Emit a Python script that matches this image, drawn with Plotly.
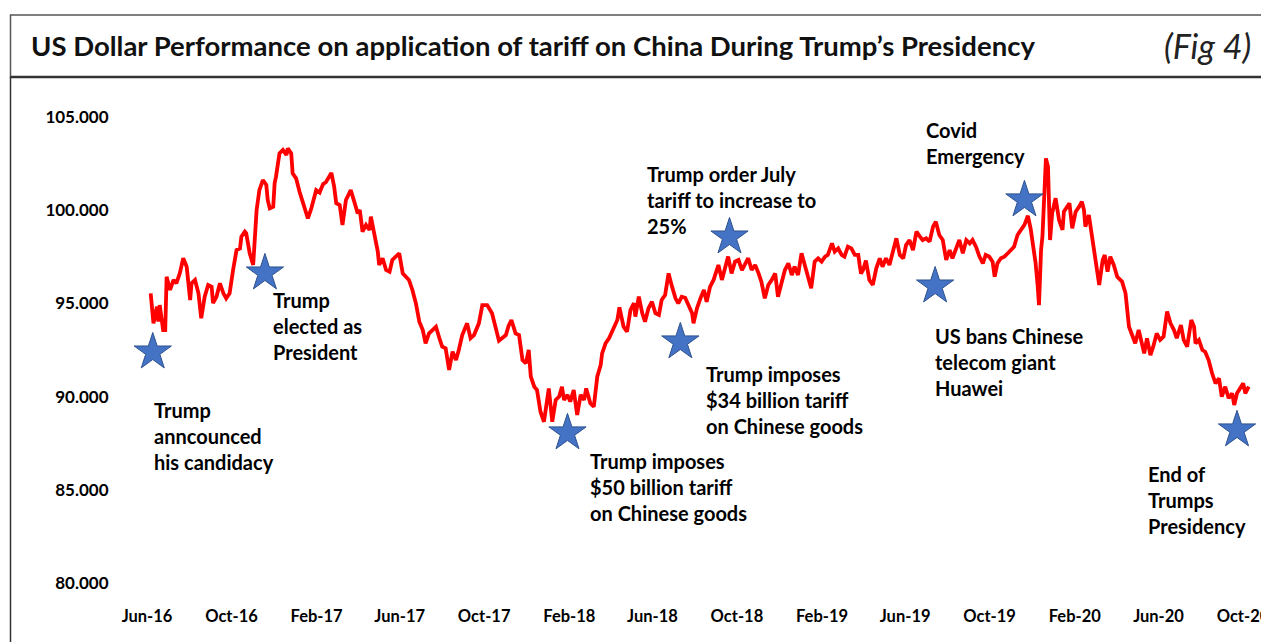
import pandas as pd
import plotly.graph_objects as go

# ---------------- data ----------------
start_date = "2016-06-01"
days = [1, 5, 10, 12, 14, 19, 22, 24, 29, 34, 38, 43, 48, 53, 58, 60, 65, 70, 74, 79,
        84, 89, 91, 96, 101, 106, 110, 115, 120, 125, 130, 132, 137, 139, 144, 149, 154, 158, 163, 168,
        170, 173, 178, 180, 182, 187, 192, 197, 199, 204, 206, 211, 216, 221, 228, 233, 240, 245, 250, 254,
        262, 266, 269, 274, 278, 283, 290, 295, 300, 303, 307, 312, 317, 319, 324, 329, 331, 336, 341, 346,
        350, 355, 360, 365, 374, 379, 384, 389, 394, 398, 403, 408, 413, 418, 422, 427, 432, 437, 442, 446,
        451, 458, 463, 468, 475, 480, 487, 494, 499, 504, 514, 518, 522, 528, 533, 538, 543, 547, 550, 555,
        559, 564, 569, 574, 576, 581, 586, 591, 595, 598, 603, 607, 612, 617, 622, 627, 630, 636, 641, 646,
        651, 653, 658, 663, 670, 675, 678, 684, 689, 694, 699, 701, 706, 711, 715, 720, 725, 730, 735, 739,
        744, 749, 754, 759, 763, 768, 773, 778, 783, 785, 790, 795, 800, 804, 809, 814, 817, 821, 826, 831,
        835, 840, 845, 850, 855, 860, 864, 869, 874, 879, 883, 888, 893, 898, 903, 907, 912, 917, 922, 927,
        931, 936, 941, 946, 951, 955, 960, 965, 970, 975, 979, 985, 989, 994, 999, 1003, 1008, 1013, 1018, 1023,
        1025, 1027, 1030, 1034, 1039, 1044, 1049, 1054, 1058, 1063, 1068, 1073, 1078, 1083, 1088, 1092, 1097, 1102, 1107, 1112,
        1116, 1121, 1126, 1131, 1135, 1140, 1145, 1150, 1155, 1159, 1164, 1169, 1174, 1179, 1184, 1188, 1193, 1198, 1203, 1207,
        1212, 1217, 1220, 1224, 1229, 1234, 1239, 1243, 1248, 1253, 1258, 1263, 1268, 1272, 1277, 1279, 1282, 1284, 1287, 1289,
        1292, 1294, 1297, 1300, 1303, 1308, 1313, 1318, 1320, 1328, 1332, 1337, 1342, 1346, 1349, 1351, 1356, 1361, 1366, 1368,
        1371, 1376, 1379, 1383, 1387, 1392, 1397, 1404, 1409, 1414, 1419, 1423, 1428, 1433, 1436, 1440, 1445, 1449, 1454, 1459,
        1464, 1469, 1474, 1479, 1483, 1489, 1493, 1498, 1504, 1508, 1510, 1515, 1520, 1524, 1529, 1534, 1539, 1544, 1548, 1553,
        1558, 1563, 1566, 1570, 1575, 1579, 1582, 1587]

dxy = [95.54, 93.93, 94.82, 94.02, 94.91, 93.57, 93.57, 96.43, 95.72, 96.26, 96.08, 96.61, 97.42, 96.97, 95.18, 96.08, 96.26, 95.54, 94.20, 95.36,
       95.99, 95.90, 95.01, 95.36, 96.08, 95.54, 95.27, 95.54, 96.79, 97.86, 97.95, 98.58, 98.85, 98.76, 97.69, 97.06, 100.01, 101.08, 101.62, 101.35,
       100.55, 100.10, 100.19, 101.44, 101.80, 103.05, 103.23, 102.96, 103.32, 103.05, 101.98, 101.71, 100.99, 100.37, 99.56, 100.10, 101.08, 100.95, 101.40, 101.50,
       102.00, 101.26, 100.37, 100.28, 99.21, 100.55, 101.08, 100.46, 99.83, 100.01, 98.85, 99.21, 98.94, 99.65, 98.76, 97.78, 97.06, 97.42, 96.79, 96.70,
       97.33, 97.51, 97.69, 96.61, 96.26, 95.72, 95.01, 94.02, 93.57, 92.86, 93.39, 93.57, 93.75, 93.13, 92.68, 92.59, 91.43, 92.41, 91.96, 92.50,
       93.30, 93.93, 93.13, 93.30, 93.93, 94.91, 94.91, 94.47, 93.75, 93.00, 93.30, 93.80, 94.11, 93.39, 93.30, 91.96, 91.79, 92.50, 91.07, 90.53,
       90.35, 89.19, 88.65, 90.18, 90.44, 88.65, 89.82, 90.00, 90.53, 89.82, 90.09, 89.73, 90.35, 89.01, 90.09, 89.82, 90.44, 89.64, 89.46, 91.07,
       91.70, 92.32, 92.86, 93.13, 93.75, 94.11, 94.79, 93.75, 93.48, 94.65, 95.01, 94.29, 95.36, 94.47, 94.02, 94.74, 95.09, 94.47, 94.38, 95.18,
       95.45, 96.61, 95.90, 95.27, 95.00, 95.36, 95.30, 94.82, 94.47, 93.93, 94.74, 95.27, 95.72, 95.09, 95.90, 96.26, 96.61, 97.06, 96.26, 96.97,
       97.51, 96.61, 97.24, 97.33, 96.79, 97.15, 97.42, 96.79, 97.06, 96.61, 96.17, 95.27, 95.99, 96.26, 96.61, 95.36, 95.99, 96.79, 97.15, 96.52,
       96.97, 96.52, 97.69, 96.97, 96.43, 95.81, 97.24, 97.42, 97.24, 97.51, 97.60, 98.22, 97.78, 97.95, 97.60, 97.51, 98.04, 97.95, 97.60, 97.60,
       97.06, 96.60, 96.80, 97.30, 96.26, 95.99, 96.88, 97.42, 96.97, 97.42, 97.06, 97.86, 98.49, 97.60, 97.42, 98.13, 98.40, 97.86, 98.85, 98.58,
       98.40, 98.49, 98.31, 99.12, 99.38, 98.67, 98.40, 97.33, 97.86, 97.42, 97.86, 98.40, 97.69, 98.40, 98.22, 98.40, 98.04, 97.51, 97.15, 97.60,
       97.51, 97.24, 96.43, 97.15, 97.42, 97.51, 97.69, 97.86, 98.04, 98.67, 98.94, 99.21, 99.70, 99.00, 97.70, 97.20, 96.00, 94.91, 97.86, 98.60,
       101.08, 102.78, 102.34, 98.40, 99.83, 100.64, 99.47, 98.94, 99.92, 100.37, 99.03, 99.92, 100.19, 100.46, 100.01, 99.12, 99.74, 98.40, 97.33, 96.70,
       95.99, 97.33, 97.60, 96.70, 97.51, 97.06, 96.43, 96.17, 95.54, 93.75, 93.22, 92.86, 93.57, 92.68, 92.32, 93.13, 92.23, 92.68, 93.39, 93.04,
       93.22, 94.56, 93.93, 93.57, 93.13, 93.84, 93.04, 92.68, 94.11, 93.75, 92.86, 93.04, 92.50, 92.41, 91.96, 91.25, 90.71, 90.98, 90.00, 90.53,
       89.91, 90.18, 89.55, 90.18, 90.53, 90.71, 90.18, 90.53]

event_days = [4, 166, 603, 766, 837, 1134, 1263, 1570]
event_levels = [92.39, 96.63, 88.05, 92.93, 98.56, 95.93, 100.55, 88.21]
event_labels = [
    ["Trump", "anncounced", "his candidacy"],
    ["Trump", "elected as", "President"],
    ["Trump imposes", "$50 billion tariff", "on Chinese goods"],
    ["Trump imposes", "$34 billion tariff", "on Chinese goods"],
    ["Trump order July", "tariff to increase to", "25%"],
    ["US bans Chinese", "telecom giant", "Huawei"],
    ["Covid", "Emergency"],
    ["End of", "Trumps", "Presidency"],
]
# text block placement in page pixels (left x, centre y of first line)
label_pos = [(152, 410), (271, 300), (588, 461), (704, 374), (645, 174),
             (933, 336), (924, 130), (1146, 474)]

title = "US Dollar Performance on application of tariff on China During Trump’s Presidency"
fig_tag = "(Fig 4)"

y_ticks = [80, 85, 90, 95, 100, 105]

# ---------------- layout geometry ----------------
PAGE_W, PAGE_H = 1269, 642
OFF = 8                      # body margin of the html page
W, H = PAGE_W - OFF, PAGE_H - OFF
PL, PR, PT, PB = 125, 1265, 117, 583     # plot area in page pixels
ML, MT = PL - OFF, PT - OFF
MR = W - (PR - OFF)
MB = H - (PB - OFF)
PW, PH = PR - PL, PB - PT

def px_x(px):
    return (px - PL) / PW

def px_y(py):
    return (PB - py) / PH

t0 = pd.Timestamp(start_date)
dates = t0 + pd.to_timedelta(days, unit="D")
ev_dates = t0 + pd.to_timedelta(event_days, unit="D")

px_per_day = 1096 / 1583.0
x_lo = t0 - pd.Timedelta(days=(150 - PL) / px_per_day)
x_hi = t0 + pd.Timedelta(days=(PR - 150) / px_per_day)

FONT = "Lato, 'Open Sans', sans-serif"

fig = go.Figure()
fig.add_trace(go.Scatter(x=dates, y=dxy, mode="lines",
                         line=dict(color="#FF0000", width=3.8),
                         hoverinfo="skip", showlegend=False))
fig.add_trace(go.Scatter(x=ev_dates, y=event_levels, mode="markers",
                         marker=dict(symbol="star", size=28, color="#4472C4",
                                     line=dict(color="#2F528F", width=1)),
                         showlegend=False, cliponaxis=False))

annotations = []
for lines, (lx, ly) in zip(event_labels, label_pos):
    for i, txt in enumerate(lines):
        annotations.append(dict(
            x=px_x(lx), y=px_y(ly + 26 * i), xref="paper", yref="paper",
            text=txt, showarrow=False, xanchor="left", yanchor="middle",
            font=dict(family=FONT, size=20, color="#000000", weight="bold")))

annotations.append(dict(x=px_x(29), y=px_y(46), xref="paper", yref="paper",
                        text=title, showarrow=False, xanchor="left", yanchor="middle",
                        font=dict(family=FONT, size=27.5, color="#111111", weight="bold")))
annotations.append(dict(x=px_x(1253), y=px_y(46), xref="paper", yref="paper",
                        text=fig_tag, showarrow=False, xanchor="right", yanchor="middle",
                        font=dict(family=FONT, size=34, color="#222222", style="italic")))

shapes = [
    dict(type="rect", xref="paper", yref="paper", x0=px_x(10.5), x1=px_x(1300),
         y0=px_y(77), y1=px_y(15), line=dict(color="#555555", width=1.5)),
    dict(type="line", xref="paper", yref="paper", x0=px_x(10.5), x1=px_x(1300),
         y0=px_y(77), y1=px_y(77), line=dict(color="#333333", width=2.5)),
    dict(type="line", xref="paper", yref="paper", x0=px_x(10.5), x1=px_x(10.5),
         y0=px_y(77), y1=px_y(700), line=dict(color="#333333", width=1.5)),
]

fig.update_layout(
    width=W, height=H,
    margin=dict(l=ML, r=MR, t=MT, b=MB, autoexpand=False),
    paper_bgcolor="white", plot_bgcolor="white",
    annotations=annotations, shapes=shapes,
    xaxis=dict(type="date", range=[x_lo, x_hi], tick0=start_date, dtick="M4",
               tickformat="%b-%y", showgrid=False, zeroline=False, showline=False,
               automargin=False,
               ticks="outside", ticklen=18, tickcolor="rgba(0,0,0,0)",
               ticklabeloverflow="allow", ticklabelshift=-3,
               tickfont=dict(family=FONT, size=16.5, color="#000000", weight="bold")),
    yaxis=dict(range=[80, 105], tickvals=y_ticks, tickformat=".3f",
               showgrid=False, zeroline=False, showline=False,
               automargin=False,
               ticks="outside", ticklen=12, tickcolor="rgba(0,0,0,0)",
               tickfont=dict(family=FONT, size=17, color="#000000", weight="bold")),
)

fig.write_html("out.html")
